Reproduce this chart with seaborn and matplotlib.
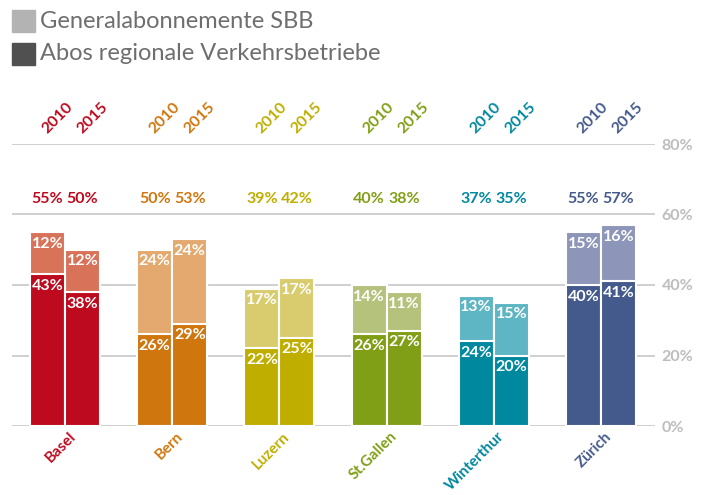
import matplotlib
matplotlib.use('Agg')
import matplotlib.pyplot as plt
from matplotlib.patches import Rectangle
import seaborn as sns
import pandas as pd

cities = ['Basel', 'Bern', 'Luzern', 'St.Gallen', 'Winterthur', 'Zürich']
years = ['2010', '2015']
regional_2010 = [43, 26, 22, 26, 24, 40]
regional_2015 = [38, 29, 25, 27, 20, 41]
ga_2010 = [12, 24, 17, 14, 13, 15]
ga_2015 = [12, 24, 17, 11, 15, 16]
yticks = [0, 20, 40, 60, 80]

dark_colors = ['#BE0A1E', '#D0760F', '#BFAE00', '#809F17', '#00889E', '#455A8C']
light_colors = ['#D8735A', '#E3A96E', '#D9CC6E', '#B5C27B', '#5EB5C4', '#8D96B8']
grey_text = '#6E6E6E'
grid_grey = '#CCCCCC'
tick_grey = '#BDBDBD'

rows = []
for i, c in enumerate(cities):
    rows.append({'city': c, 'year': '2010', 'regional': regional_2010[i], 'ga': ga_2010[i]})
    rows.append({'city': c, 'year': '2015', 'regional': regional_2015[i], 'ga': ga_2015[i]})
df = pd.DataFrame(rows)
df['total'] = df['regional'] + df['ga']

sns.set_style('white')
plt.rcParams['font.family'] = ['Lato', 'DejaVu Sans']

fig = plt.figure(figsize=(7.02, 4.95), dpi=100)
ax = fig.add_axes([11.5 / 702, 69 / 495, 643 / 702, 282 / 495])

# light top segment (total height) then dark regional on top of it
sns.barplot(data=df, x='city', y='total', hue='year', hue_order=years, width=0.654,
            errorbar=None, saturation=1, legend=False, ax=ax, zorder=3)
sns.barplot(data=df, x='city', y='regional', hue='year', hue_order=years, width=0.654,
            errorbar=None, saturation=1, legend=False, ax=ax, zorder=4)

for k, cont in enumerate(ax.containers):
    cols = light_colors if k < 2 else dark_colors
    for i, p in enumerate(cont.patches):
        p.set_facecolor(cols[i])
        p.set_edgecolor('white')
        p.set_linewidth(1.5)

ax.set_xlim(-0.5, 5.5)
ax.set_ylim(0, 80)
ax.set_yticks(yticks)
ax.set_yticklabels([f'{t}%' for t in yticks])
ax.yaxis.tick_right()
ax.tick_params(axis='y', length=0, pad=5, labelsize=11.5, labelcolor=tick_grey)
for lab in ax.get_yticklabels():
    lab.set_fontweight('bold')
ax.set_xticks([])
ax.set_xlabel('')
ax.set_ylabel('')
for s in ax.spines.values():
    s.set_visible(False)
for t in yticks:
    ax.axhline(t, color=grid_grey, lw=1.3, zorder=1)

tot = [ax.containers[0], ax.containers[1]]
reg = [ax.containers[2], ax.containers[3]]
for j, yr in enumerate(years):
    for i, c in enumerate(cities):
        pt = tot[j].patches[i]
        pr = reg[j].patches[i]
        xc = pt.get_x() + pt.get_width() / 2
        top = pt.get_height()
        mid = pr.get_height()
        # segment labels
        ax.text(xc, top - 1.3, f'{top - mid:.0f}%', ha='center', va='top', color='white',
                fontsize=11.5, fontweight='bold', zorder=6)
        ax.text(xc, mid - 1.3, f'{mid:.0f}%', ha='center', va='top', color='white',
                fontsize=11.5, fontweight='bold', zorder=6)
        # totals
        ax.text(xc, 64.5, f'{top:.0f}%', ha='center', va='center', color=dark_colors[i],
                fontsize=11.5, fontweight='bold', clip_on=False)
        # year labels
        ax.text(xc + 0.09, 87.4, yr, ha='center', va='center', rotation=45, color=dark_colors[i],
                fontsize=11.5, fontweight='bold', clip_on=False)

for i, c in enumerate(cities):
    ax.text(i + 0.03, -1.0, c, ha='right', va='top', rotation=45, rotation_mode='anchor',
            color=dark_colors[i], fontsize=11, fontweight='bold', clip_on=False)

# legend
fig.add_artist(Rectangle((12 / 702, 1 - 32 / 495), 23 / 702, 22 / 495,
                         transform=fig.transFigure, color='#B3B3B3'))
fig.add_artist(Rectangle((12 / 702, 1 - 65 / 495), 23 / 702, 22 / 495,
                         transform=fig.transFigure, color='#505050'))
fig.text(40 / 702, 1 - 21 / 495, 'Generalabonnemente SBB', ha='left', va='center',
         fontsize=17, color=grey_text)
fig.text(40 / 702, 1 - 54 / 495, 'Abos regionale Verkehrsbetriebe', ha='left', va='center',
         fontsize=17, color=grey_text)

fig.savefig('out.png', dpi=100)
